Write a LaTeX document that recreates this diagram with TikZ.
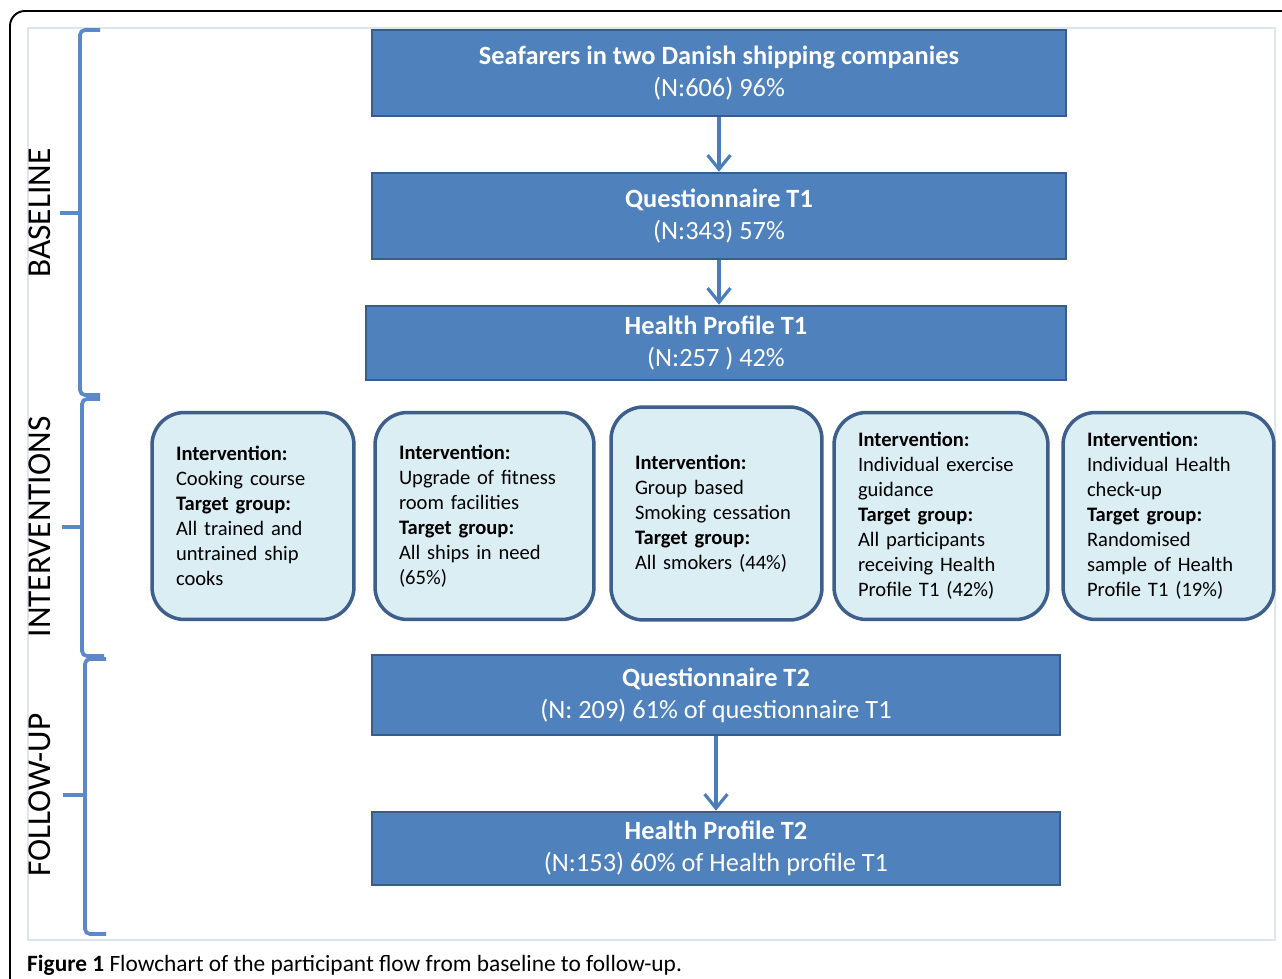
\documentclass[tikz,border=0pt]{standalone}
\usepackage{fontspec}
\setmainfont{Carlito}
\usetikzlibrary{arrows.meta}
\definecolor{boxblue}{HTML}{4F81BD}
\definecolor{boxedge}{HTML}{385D8A}
\definecolor{paleblue}{HTML}{DBEEF4}
\definecolor{paleedge}{HTML}{3E5F8C}
\definecolor{braceblue}{HTML}{5A88C8}
\definecolor{arrowblue}{HTML}{4A7EBB}
\definecolor{framegray}{HTML}{DCE6EC}
\begin{document}
\begin{tikzpicture}[x=0.02cm, y=-0.02cm,
	stage/.style={draw=boxedge, line width=1.5pt, fill=boxblue, text=white, align=center,
		font=\fontsize{15}{18.1}\selectfont, inner sep=0pt},
	action/.style={draw=paleedge, line width=2pt, fill=paleblue, rounded corners=0.65cm,
		align=left, font=\fontsize{11.7}{14.2}\selectfont, inner xsep=0.48cm, inner ysep=0pt,
		minimum height=4.14cm},
	phase/.style={rotate=90, font=\fontsize{19}{22}\selectfont},
	bracket/.style={draw=braceblue, line width=2.1pt, rounded corners=0.1cm},
	flow/.style={draw=arrowblue, line width=1.8pt, -{Straight Barb[length=8pt,width=13pt]}}]
	\useasboundingbox (0,0) rectangle (1282,979);
	\fill[white] (0,0) rectangle (1282,979);
	% frame and picture area
	\draw[line width=1.1pt, rounded corners=0.3cm] (10,979) -- (10,11) -- (1282,11);
	\draw[framegray, line width=0.6pt] (28,28) rectangle (1275,940);
	
	% phases
	\draw[bracket] (100,30) -- (80,30) -- (80,395) -- (100,395);
	\draw[bracket] (60,213) -- (80,213);
	\node[phase] (baseline) at (40,213) {BASELINE};
	\draw[bracket] (100,399) -- (82,399) -- (82,656) -- (104,656);
	\draw[bracket] (62,527) -- (82,527);
	\node[phase] (interventions) at (40,527) {INTERVENTIONS};
	\draw[bracket] (106,659) -- (85,659) -- (85,934) -- (106,934);
	\draw[bracket] (63,795) -- (85,795);
	\node[phase] (followup) at (40,795) {FOLLOW-UP};
	
	% baseline boxes
	\node[stage, minimum width=13.88cm, minimum height=1.72cm] (seafarers) at (719,73)
		{\textbf{Seafarers in two Danish shipping companies}\\(N:606) 96\%};
	\node[stage, minimum width=13.88cm, minimum height=1.72cm] (quest1) at (719,216)
		{\textbf{Questionnaire T1}\\(N:343) 57\%};
	\node[stage, minimum width=14cm, minimum height=1.48cm] (health1) at (716,343)
		{\textbf{Health Profile T1}\\(N:257 ) 42\%};
	\draw[flow] (seafarers) -- (quest1);
	\draw[flow] (quest1.south) -- (quest1.south |- health1.north);
	
	% interventions
	\node[action, text width=3.08cm] (cooking) at (253,516)
		{\textbf{Intervention:}\\Cooking course\\\textbf{Target group:}\\All trained and\\untrained ship\\cooks};
	\node[action, text width=3.42cm] (fitness) at (484.5,516)
		{\textbf{Intervention:}\\Upgrade of fitness\\room facilities\\\textbf{Target group:}\\All ships in need\\(65\%)};
	\node[action, text width=3.26cm, minimum height=4.26cm] (smoking) at (716.5,513.5)
		{\textbf{Intervention:}\\Group based\\Smoking cessation\\\textbf{Target group:}\\All smokers (44\%)};
	\node[action, text width=3.32cm] (exercise) at (941,516)
		{\textbf{Intervention:}\\Individual exercise\\guidance\\\textbf{Target group:}\\All participants\\receiving Health\\Profile T1 (42\%)};
	\node[action, text width=3.26cm] (checkup) at (1168.5,516)
		{\textbf{Intervention:}\\Individual Health\\check-up\\\textbf{Target group:}\\Randomised\\sample of Health\\Profile T1 (19\%)};
	
	% follow-up boxes
	\node[stage, minimum width=13.76cm, minimum height=1.6cm] (quest2) at (716,695)
		{\textbf{Questionnaire T2}\\(N: 209) 61\% of questionnaire T1};
	\node[stage, minimum width=13.76cm, minimum height=1.46cm] (health2) at (716,848.5)
		{\textbf{Health Profile T2}\\(N:153) 60\% of Health profile T1};
	\draw[flow] (quest2) -- (health2);
	
	\node[anchor=west, font=\fontsize{13.3}{16}\selectfont] (caption) at (21,965)
		{\textbf{Figure 1} Flowchart of the participant flow from baseline to follow-up.};
\end{tikzpicture}
\end{document}
